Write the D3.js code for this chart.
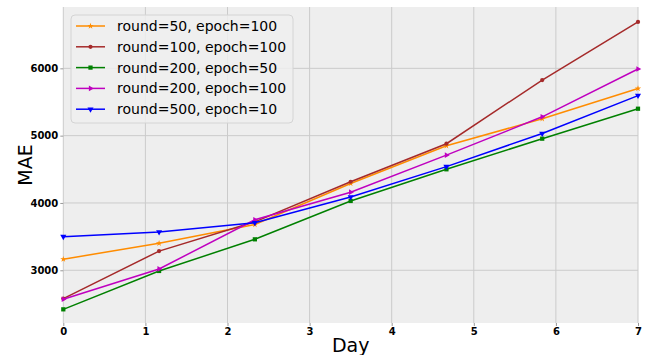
<!DOCTYPE html>
<html>
<head>
<meta charset="utf-8">
<script src="https://cdn.jsdelivr.net/npm/d3@7"></script>
<style>
  body { margin: 0; background: #fff; }
  svg { font-family: "DejaVu Sans", sans-serif; }
</style>
</head>
<body>
<div id="chart"></div>
<script>
const w = 645;
const h = 355;
const margin = { top: 7, right: 7, bottom: 32, left: 63.3 };

// data
const days = [0, 7 / 6, 14 / 6, 3.5, 28 / 6, 35 / 6, 7];
const seriesNames = [
  "round=50, epoch=100",
  "round=100, epoch=100",
  "round=200, epoch=50",
  "round=200, epoch=100",
  "round=500, epoch=10",
];
const r50e100 = [3165, 3400, 3680, 4290, 4850, 5250, 5700];
const r100e100 = [2580, 3285, 3720, 4315, 4880, 5826, 6690];
const r200e50 = [2420, 2990, 3460, 4030, 4500, 4955, 5400];
const r200e100 = [2570, 3020, 3750, 4160, 4710, 5280, 5990];
const r500e10 = [3500, 3570, 3705, 4090, 4540, 5032, 5595];
const xTicks = [0, 1, 2, 3, 4, 5, 6, 7];
const yTicks = [3000, 4000, 5000, 6000];

const colors = ["#ff8c00", "#a52a2a", "#008000", "#bf00bf", "#0000ff"];
const symbols = [
  d3.symbolStar,
  d3.symbolCircle,
  d3.symbolSquare,
  d3.symbolTriangle, // rotated to point right
  d3.symbolTriangle, // rotated to point down
];
const symbolRot = [0, 0, 0, 90, 180];
const symbolSize = [12, 14, 18, 14, 16];

const allSeries = [r50e100, r100e100, r200e50, r200e100, r500e10];

const svg = d3
  .select("#chart")
  .append("svg")
  .attr("width", w)
  .attr("height", h);

const x = d3
  .scaleLinear()
  .domain([0, 7])
  .range([margin.left, w - margin.right]);

const y = d3
  .scaleLinear()
  .domain([2217, 6911])
  .range([h - margin.bottom, margin.top]);

// plot background
svg
  .append("rect")
  .attr("x", x(0))
  .attr("y", y(6911))
  .attr("width", x(7) - x(0))
  .attr("height", y(2217) - y(6911))
  .attr("fill", "#eeeeee");

// grid
svg
  .append("g")
  .selectAll("line")
  .data(xTicks)
  .enter()
  .append("line")
  .attr("x1", (d) => x(d))
  .attr("x2", (d) => x(d))
  .attr("y1", y(2217))
  .attr("y2", y(6911))
  .attr("stroke", "#cbcbcb")
  .attr("stroke-width", 1);

svg
  .append("g")
  .selectAll("line")
  .data(yTicks)
  .enter()
  .append("line")
  .attr("x1", x(0))
  .attr("x2", x(7))
  .attr("y1", (d) => y(d))
  .attr("y2", (d) => y(d))
  .attr("stroke", "#cbcbcb")
  .attr("stroke-width", 1);

// axes
const xAxis = svg
  .append("g")
  .attr("transform", `translate(0,${h - margin.bottom})`)
  .call(d3.axisBottom(x).tickValues(xTicks).tickFormat(d3.format("d")).tickSize(3).tickPadding(2));

const yAxis = svg
  .append("g")
  .attr("transform", `translate(${margin.left},0)`)
  .call(d3.axisLeft(y).tickValues(yTicks).tickFormat(d3.format("d")).tickSize(3).tickPadding(2));

[xAxis, yAxis].forEach((a) => {
  a.select(".domain").remove();
  a.selectAll(".tick line").attr("stroke", "#999");
  a.selectAll(".tick text")
    .attr("font-family", "DejaVu Sans")
    .attr("font-size", "10px")
    .attr("font-weight", "bold")
    .attr("fill", "#000");
});

// lines + markers
const line = d3
  .line()
  .x((d, i) => x(days[i]))
  .y((d) => y(d));

allSeries.forEach((vals, s) => {
  svg
    .append("path")
    .datum(vals)
    .attr("d", line)
    .attr("fill", "none")
    .attr("stroke", colors[s])
    .attr("stroke-width", 1.5);

  svg
    .append("g")
    .selectAll("path")
    .data(vals)
    .enter()
    .append("path")
    .attr("d", d3.symbol().type(symbols[s]).size(symbolSize[s]))
    .attr("transform", (d, i) => `translate(${x(days[i])},${y(d)}) rotate(${symbolRot[s]})`)
    .attr("fill", colors[s]);
});

// axis labels
svg
  .append("text")
  .text("Day")
  .attr("x", (x(0) + x(7)) / 2)
  .attr("y", 352)
  .attr("text-anchor", "middle")
  .attr("font-size", "19px")
  .attr("fill", "#000");

svg
  .append("text")
  .text("MAE")
  .attr("transform", `translate(32,${(y(2217) + y(6911)) / 2}) rotate(-90)`)
  .attr("text-anchor", "middle")
  .attr("font-size", "19px")
  .attr("fill", "#000");

// legend
const legend = svg.append("g");
legend
  .append("rect")
  .attr("x", 71)
  .attr("y", 15)
  .attr("width", 222)
  .attr("height", 108)
  .attr("rx", 4)
  .attr("fill", "#eeeeee")
  .attr("fill-opacity", 0.85)
  .attr("stroke", "#d4d4d4");

seriesNames.forEach((name, s) => {
  const ly = 26 + s * 20.8;
  legend
    .append("line")
    .attr("x1", 76)
    .attr("x2", 105)
    .attr("y1", ly)
    .attr("y2", ly)
    .attr("stroke", colors[s])
    .attr("stroke-width", 1.5);
  legend
    .append("path")
    .attr("d", d3.symbol().type(symbols[s]).size(symbolSize[s]))
    .attr("transform", `translate(90.5,${ly}) rotate(${symbolRot[s]})`)
    .attr("fill", colors[s]);
  legend
    .append("text")
    .text(name)
    .attr("x", 117)
    .attr("y", ly)
    .attr("dy", "0.36em")
    .attr("font-size", "14px")
    .attr("fill", "#000");
});
</script>
</body>
</html>
